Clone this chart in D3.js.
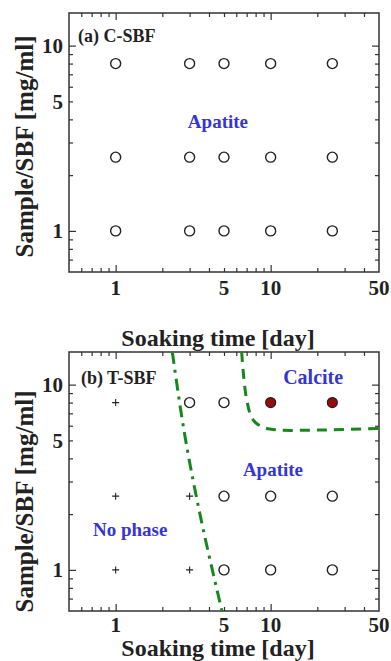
<!DOCTYPE html>
<html>
<head>
<meta charset="utf-8">
<script src="https://cdn.jsdelivr.net/npm/d3@7"></script>
<style>
  body { margin: 0; background: #fff; }
  svg text { font-family: "Liberation Serif", "Times New Roman", serif; font-weight: bold; }
</style>
</head>
<body>
<svg id="chart" width="391" height="661"></svg>
<script>
// soaking times [day] and sample/SBF ratios [mg/ml]
const days = [1, 3, 5, 10, 25];
const ratios = [1, 2.5, 8];

// panel (a) C-SBF: every point gives apatite
const csbfApatite = [];
ratios.forEach(r => days.forEach(d => csbfApatite.push({x: d, y: r})));

// panel (b) T-SBF
const tsbfNone = [
  {x: 1, y: 8}, {x: 1, y: 2.5}, {x: 1, y: 1},
  {x: 3, y: 2.5}, {x: 3, y: 1}
];
const tsbfApatite = [
  {x: 3, y: 8}, {x: 5, y: 8},
  {x: 5, y: 2.5}, {x: 10, y: 2.5}, {x: 25, y: 2.5},
  {x: 5, y: 1}, {x: 10, y: 1}, {x: 25, y: 1}
];
const tsbfCalcite = [{x: 10, y: 8}, {x: 25, y: 8}];

// phase boundaries
const noPhaseBoundary = [
  {x: 2.32, y: 15}, {x: 2.88, y: 4.6}, {x: 3.35, y: 2.38}, {x: 4.85, y: 0.6}
];
const calciteBoundary = [
  {x: 6.5, y: 15}, {x: 7.0, y: 8.3}, {x: 7.7, y: 6.45}, {x: 8.9, y: 5.9},
  {x: 10.9, y: 5.7}, {x: 20.8, y: 5.69}, {x: 50, y: 5.8}
];

// tick values
const xLabelTicks = [1, 5, 10, 50];
const yLabelTicks = [1, 5, 10];
const xMajor = [1, 10];
const xMinor = [0.6, 0.7, 0.8, 0.9, 2, 3, 4, 5, 6, 7, 8, 9, 20, 30, 40];
const yMajor = [1, 10];
const yMinor = [0.7, 0.8, 0.9, 2, 3, 4, 5, 6, 7, 8, 9];

const margin = {left: 69, right: 12};
const plotW = 391 - margin.left - margin.right;
const plotH = 259;

const svg = d3.select("#chart");

const xScale = d3.scaleLog().domain([0.5, 50]).range([0, plotW]);
const yScale = d3.scaleLog().domain([0.6, 15]).range([plotH, 0]);

const blue = "#3535d6";
const green = "#17871b";

function drawPanel(top, cfg) {
  const g = svg.append("g").attr("transform", `translate(${margin.left},${top})`);

  // inward ticks on all four sides
  const tickSets = [
    [d3.axisBottom(xScale).tickValues(xMinor).tickSize(-4), `translate(0,${plotH})`],
    [d3.axisBottom(xScale).tickValues(xMajor).tickSize(-7), `translate(0,${plotH})`],
    [d3.axisTop(xScale).tickValues(xMinor).tickSize(-4), null],
    [d3.axisTop(xScale).tickValues(xMajor).tickSize(-7), null],
    [d3.axisLeft(yScale).tickValues(yMinor).tickSize(-4), null],
    [d3.axisLeft(yScale).tickValues(yMajor).tickSize(-7), null],
    [d3.axisRight(yScale).tickValues(yMinor).tickSize(-4), `translate(${plotW},0)`],
    [d3.axisRight(yScale).tickValues(yMajor).tickSize(-7), `translate(${plotW},0)`]
  ];
  tickSets.forEach(([ax, tr]) => {
    const a = g.append("g").call(ax.tickFormat(""));
    if (tr) a.attr("transform", tr);
    a.select(".domain").remove();
    a.selectAll("line").attr("stroke", "#333").attr("stroke-width", 1.2);
  });

  g.append("rect")
    .attr("width", plotW).attr("height", plotH)
    .attr("fill", "none").attr("stroke", "#333").attr("stroke-width", 1.5);

  // tick labels
  g.selectAll(".xlab").data(xLabelTicks).join("text")
    .attr("class", "xlab")
    .attr("x", d => xScale(d)).attr("y", plotH + cfg.xLabelGap)
    .attr("text-anchor", "middle").attr("font-size", 21).attr("fill", "#222")
    .text(d => d);
  g.selectAll(".ylab").data(yLabelTicks).join("text")
    .attr("class", "ylab")
    .attr("x", -6).attr("y", d => yScale(d)).attr("dy", "0.35em")
    .attr("text-anchor", "end").attr("font-size", 21).attr("fill", "#222")
    .text(d => d);

  // axis titles
  g.append("text")
    .attr("x", plotW / 2 - 6).attr("y", plotH + cfg.xTitleGap)
    .attr("text-anchor", "middle").attr("font-size", 24).attr("fill", "#222")
    .text("Soaking time [day]");
  g.append("text")
    .attr("transform", `translate(-36,${plotH / 2 + cfg.yTitleShift}) rotate(-90)`)
    .attr("text-anchor", "middle").attr("font-size", 25).attr("fill", "#222")
    .text("Sample/SBF [mg/ml]");

  const line = d3.line().x(d => xScale(d.x)).y(d => yScale(d.y));
  (cfg.lines || []).forEach(l => {
    g.append("path")
      .attr("d", line.curve(l.curve)(l.data))
      .attr("fill", "none").attr("stroke", green).attr("stroke-width", 3)
      .attr("stroke-dasharray", l.dash);
  });

  // markers
  g.selectAll(".open").data(cfg.open).join("circle")
    .attr("class", "open")
    .attr("cx", d => xScale(d.x)).attr("cy", d => yScale(d.y)).attr("r", 5)
    .attr("fill", "#fff").attr("stroke", "#222").attr("stroke-width", 1.4);
  g.selectAll(".filled").data(cfg.filled || []).join("circle")
    .attr("class", "filled")
    .attr("cx", d => xScale(d.x)).attr("cy", d => yScale(d.y)).attr("r", 5)
    .attr("fill", "#9a0a0a").attr("stroke", "#222").attr("stroke-width", 1.2);
  g.selectAll(".plus").data(cfg.plus || []).join("path")
    .attr("class", "plus")
    .attr("transform", d => `translate(${xScale(d.x)},${yScale(d.y)})`)
    .attr("d", "M-3.5,0H3.5M0,-3.5V3.5")
    .attr("stroke", "#222").attr("stroke-width", 1.1);

  // annotations
  cfg.notes.forEach(n => {
    g.append("text")
      .attr("x", xScale(n.x)).attr("y", yScale(n.y))
      .attr("text-anchor", n.anchor).attr("font-size", n.size)
      .attr("fill", n.color)
      .text(n.text);
  });
}

drawPanel(13, {
  xLabelGap: 23, xTitleGap: 74, yTitleShift: 4,
  open: csbfApatite,
  notes: [
    {text: "(a) C-SBF", x: 0.571, y: 10.4, anchor: "start", size: 18, color: "#222"},
    {text: "Apatite", x: 4.57, y: 3.6, anchor: "middle", size: 19, color: blue}
  ]
});

drawPanel(352, {
  xLabelGap: 21, xTitleGap: 45, yTitleShift: 20,
  open: tsbfApatite, filled: tsbfCalcite, plus: tsbfNone,
  lines: [
    {data: noPhaseBoundary, curve: d3.curveMonotoneY, dash: "12,6,3,6"},
    {data: calciteBoundary, curve: d3.curveCatmullRom, dash: "10,7"}
  ],
  notes: [
    {text: "(b) T-SBF", x: 0.597, y: 10.1, anchor: "start", size: 18, color: "#222"},
    {text: "Calcite", x: 18.8, y: 10.1, anchor: "middle", size: 20, color: blue},
    {text: "Apatite", x: 10.35, y: 3.2, anchor: "middle", size: 19, color: blue},
    {text: "No phase", x: 1.24, y: 1.52, anchor: "middle", size: 19, color: blue}
  ]
});
</script>
</body>
</html>
